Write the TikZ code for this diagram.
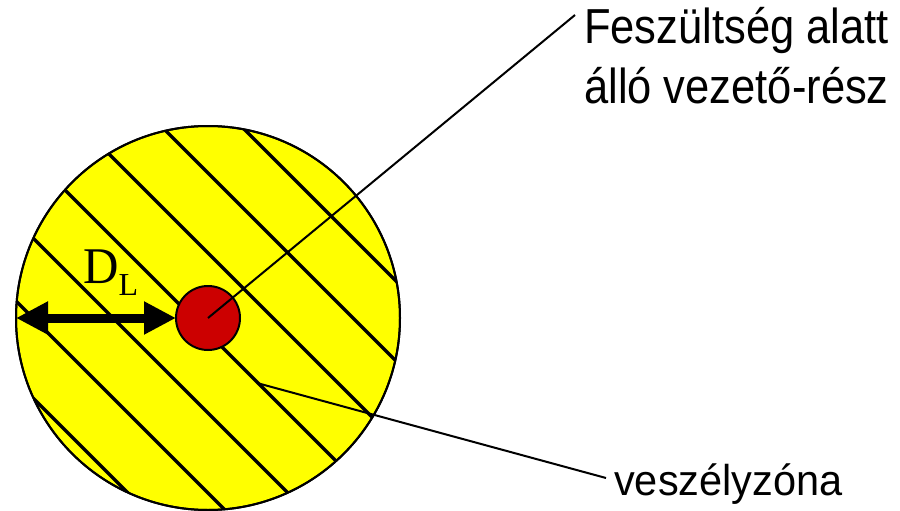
\documentclass[tikz,border=0pt]{standalone}
\usepackage{fontspec}
\usepackage{graphicx}
\setmainfont{Liberation Sans}
\newfontfamily\serifD{Liberation Serif}
\usetikzlibrary{arrows.meta}
\definecolor{zoneyellow}{HTML}{FFFF00}
\definecolor{partred}{HTML}{CC0000}
\tikzset{
  zonecirc/.style={circle, draw=black, line width=2pt, fill=zoneyellow, minimum size=384pt, inner sep=0pt, outer sep=0pt},
  partcirc/.style={circle, draw=black, line width=2pt, fill=partred, minimum size=64pt, inner sep=0pt, outer sep=0pt},
  hatchline/.style={line width=3.5pt, black},
  leader/.style={line width=2pt, black},
  label/.style={font=\fontsize{43.5}{48}\selectfont, inner sep=0pt, anchor=base west},
  dimarrow/.style={line width=9pt, {Triangle[length=32pt,width=31pt]}-{Triangle[length=32pt,width=31pt]}},
}
\begin{document}
\begin{tikzpicture}[x=1pt,y=-1pt]
\useasboundingbox (0,0) rectangle (900,511);
% yellow zone
\node[zonecirc] (zone) at (208,318) {};
% hatch
\begin{scope}
  \clip (208,318) circle (192pt);
  \foreach \c in {-115,-35,45,125,205,285,365} {
    \draw[hatchline] (-100,{-100+\c}) -- (500,{500+\c});
  }
\end{scope}
% outline again on top of hatch
\draw[line width=2pt] (208,318) circle (192pt);
% part
\node[partcirc] (part) at (208,318) {};
% leaders
\coordinate (topend) at (575,15);
\coordinate (zstart) at (257,383);
\coordinate (zend) at (606,478);
\draw[leader] (part.center) -- (topend);
\draw[leader] (zstart) -- (zend);
% dimension arrow
\draw[dimarrow] (zone.west) -- (part.west);
\node[inner sep=0pt, anchor=base west] (dl) at (83,283) {\serifD\scalebox{1}[1.05]{\fontsize{49}{49}\selectfont D}\raisebox{-12pt}{\fontsize{32}{32}\selectfont L}};
% labels
\node[label] (t1) at (584,44) {\scalebox{1}[1.13]{Feszültség alatt}};
\node[label] (t2) at (584,103) {\scalebox{1}[1.13]{álló vezető-rész}};
\node[label, font=\fontsize{41.5}{48}\selectfont] (t3) at (614,495) {\scalebox{1}[1.04]{veszélyzóna}};
\end{tikzpicture}
\end{document}
